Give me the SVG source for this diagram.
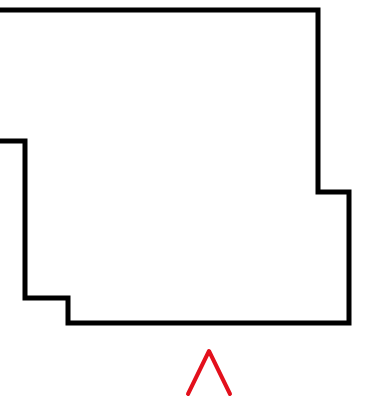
<svg xmlns="http://www.w3.org/2000/svg" width="382" height="414" viewBox="0 0 382 414">
<style>
.wall{fill:none;stroke:#000;stroke-width:5;stroke-linejoin:miter;stroke-linecap:square}
.caret{fill:none;stroke:#e3101c;stroke-width:4;stroke-linecap:round;stroke-linejoin:round}
</style>
<rect width="382" height="414" fill="#fff"/>
<g id="outline">
<polyline class="wall" points="-5,10 318,10 318,192 349,192 349,323 68,323 68,298 25,298 25,141 -5,141"/>
</g>
<g id="marker">
<polyline class="caret" points="188,394 209,351 230,394"/>
</g>
</svg>
